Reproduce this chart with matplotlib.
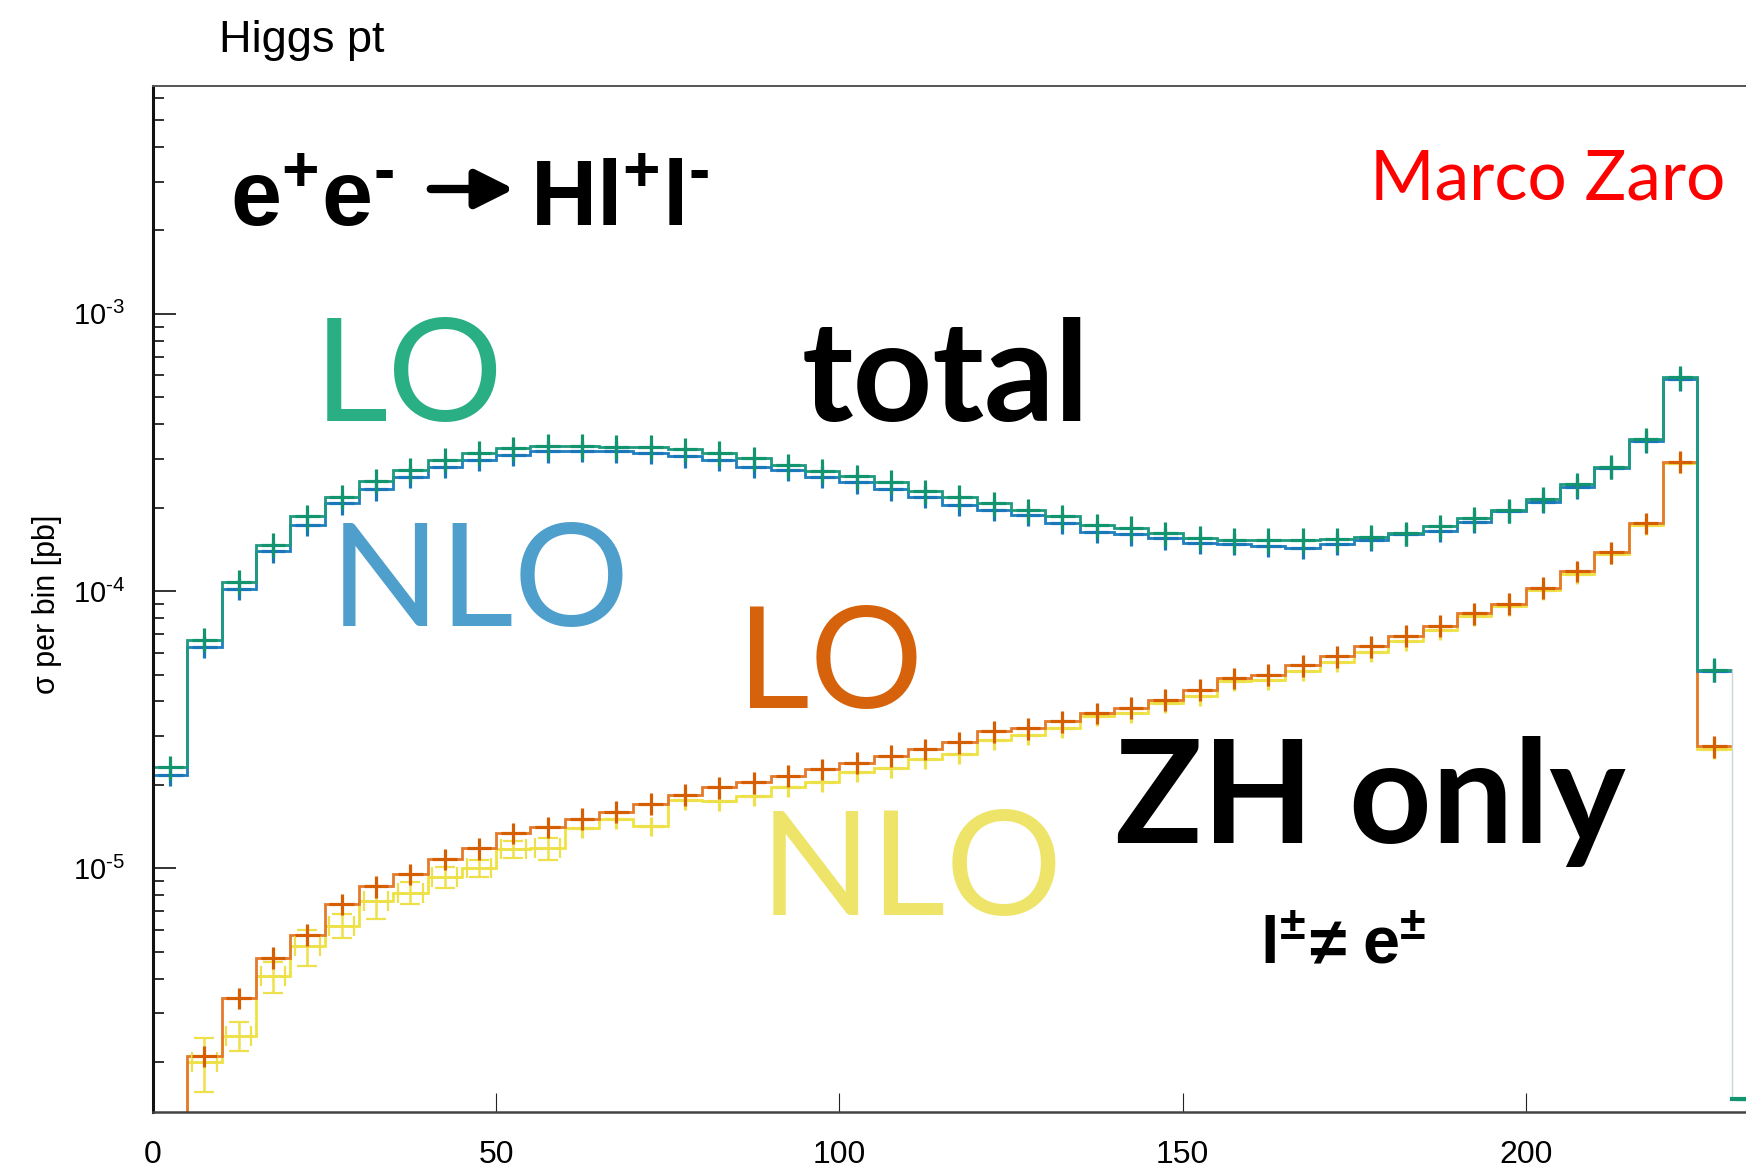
import numpy as np
import matplotlib
matplotlib.use('Agg')
import matplotlib.pyplot as plt
from matplotlib.patches import FancyArrowPatch
from matplotlib.ticker import FixedLocator, FuncFormatter

# Higgs pt in e+e- -> H l+ l-, cross section per 5 GeV bin (pb)
pt_edges = np.arange(0, 240, 5)

lo_total = [2.31e-5, 6.67e-5, 1.08e-4, 1.47e-4, 1.86e-4, 2.19e-4, 2.50e-4, 2.74e-4,
            2.98e-4, 3.16e-4, 3.28e-4, 3.34e-4, 3.34e-4, 3.32e-4, 3.32e-4, 3.25e-4,
            3.15e-4, 3.02e-4, 2.85e-4, 2.72e-4, 2.60e-4, 2.48e-4, 2.29e-4, 2.19e-4,
            2.07e-4, 1.96e-4, 1.86e-4, 1.73e-4, 1.69e-4, 1.62e-4, 1.56e-4, 1.53e-4,
            1.53e-4, 1.53e-4, 1.54e-4, 1.57e-4, 1.62e-4, 1.71e-4, 1.83e-4, 1.96e-4,
            2.15e-4, 2.43e-4, 2.81e-4, 3.53e-4, 5.90e-4, 5.20e-5, 1.47e-6]
nlo_total = [2.17e-5, 6.30e-5, 1.02e-4, 1.39e-4, 1.73e-4, 2.07e-4, 2.33e-4, 2.59e-4,
             2.81e-4, 2.98e-4, 3.10e-4, 3.19e-4, 3.20e-4, 3.19e-4, 3.15e-4, 3.06e-4,
             2.98e-4, 2.81e-4, 2.74e-4, 2.59e-4, 2.47e-4, 2.33e-4, 2.19e-4, 2.05e-4,
             1.96e-4, 1.88e-4, 1.76e-4, 1.64e-4, 1.60e-4, 1.55e-4, 1.49e-4, 1.48e-4,
             1.46e-4, 1.43e-4, 1.48e-4, 1.53e-4, 1.60e-4, 1.65e-4, 1.78e-4, 1.94e-4,
             2.10e-4, 2.37e-4, 2.78e-4, 3.47e-4, 5.80e-4, 5.15e-5, 1.45e-6]
lo_zh = [1e-7, 2.10e-6, 3.40e-6, 4.75e-6, 5.76e-6, 7.43e-6, 8.60e-6, 9.53e-6,
         1.08e-5, 1.18e-5, 1.34e-5, 1.41e-5, 1.51e-5, 1.60e-5, 1.71e-5, 1.84e-5,
         1.96e-5, 2.04e-5, 2.16e-5, 2.28e-5, 2.40e-5, 2.55e-5, 2.69e-5, 2.85e-5,
         3.12e-5, 3.20e-5, 3.39e-5, 3.63e-5, 3.79e-5, 4.06e-5, 4.41e-5, 4.86e-5,
         4.99e-5, 5.39e-5, 5.81e-5, 6.31e-5, 6.90e-5, 7.51e-5, 8.32e-5, 9.00e-5,
         1.03e-4, 1.18e-4, 1.38e-4, 1.76e-4, 2.93e-4, 2.75e-5, 1e-7]
nlo_zh = [1e-7, 2.00e-6, 2.49e-6, 4.07e-6, 5.22e-6, 6.21e-6, 7.60e-6, 8.15e-6,
          9.30e-6, 1.00e-5, 1.17e-5, 1.18e-5, 1.40e-5, 1.51e-5, 1.42e-5, 1.77e-5,
          1.75e-5, 1.82e-5, 1.97e-5, 2.05e-5, 2.23e-5, 2.30e-5, 2.48e-5, 2.59e-5,
          2.91e-5, 3.03e-5, 3.20e-5, 3.53e-5, 3.63e-5, 3.94e-5, 4.17e-5, 4.72e-5,
          4.79e-5, 5.13e-5, 5.57e-5, 6.05e-5, 6.63e-5, 7.25e-5, 8.10e-5, 8.80e-5,
          1.01e-4, 1.15e-4, 1.36e-4, 1.73e-4, 2.90e-4, 2.70e-5, 1e-7]
# relative MC errors of the NLO ZH points (bigger at low pt, drawn with caps)
nlo_zh_relerr = [0.0, 0.22, 0.12, 0.13, 0.15, 0.10, 0.14, 0.09, 0.09, 0.07,
                 0.07, 0.09, 0.08, 0.08, 0.08, 0.08, 0.08, 0.08, 0.08, 0.08,
                 0.08, 0.08, 0.08, 0.08, 0.08, 0.08, 0.08, 0.08, 0.08, 0.08,
                 0.08, 0.08, 0.08, 0.08, 0.08, 0.08, 0.08, 0.08, 0.08, 0.08,
                 0.08, 0.08, 0.08, 0.08, 0.08, 0.08, 0.0]
n_capped = 12

x_ticks = [0, 50, 100, 150, 200]
y_ticks = [1e-5, 1e-4, 1e-3]

W, H = 1746, 1168

plt.rcParams['font.family'] = ['Liberation Sans', 'DejaVu Sans']
plt.rcParams['mathtext.fontset'] = 'custom'
plt.rcParams['mathtext.rm'] = 'Liberation Sans'
plt.rcParams['mathtext.it'] = 'Liberation Sans:italic'
plt.rcParams['mathtext.bf'] = 'Liberation Sans:bold'
plt.rcParams['mathtext.sf'] = 'Liberation Sans'


def draw_hist(ax, vals, relerr, line_col, mark_col, keep_tail=False, caps_upto=0):
    vals = np.array(vals)
    err = np.array(relerr) * vals
    centers = pt_edges[:-1] + 2.5
    # main histogram up to 230, last bin only for the totals, drawn faint
    ax.stairs(vals[:-1], pt_edges[:-1], color=line_col, lw=2.0, baseline=None)
    if keep_tail:
        ax.plot([230, 230, 235], [vals[-2], vals[-1], vals[-1]], color='#c8d8d4', lw=1.0)
        ax.plot([230, 235], [vals[-1], vals[-1]], color=mark_col, lw=3.0)
    ok = vals > 1e-6
    ok[-1] = keep_tail
    if caps_upto:
        first = ok.copy()
        first[caps_upto:] = False
        ax.errorbar(centers[first], vals[first], xerr=1.8, yerr=err[first], fmt='none',
                    ecolor=mark_col, elinewidth=1.8, capsize=7, capthick=1.6)
        ok[:caps_upto] = False
    ax.errorbar(centers[ok], vals[ok], xerr=1.8, yerr=err[ok], fmt='none',
                ecolor=mark_col, elinewidth=2.3, capsize=0)


def put(txt, x, y, size, color, family='Lato', weight='normal'):
    # x, y in pixels of the final image, y = baseline from the top
    fig.text(x / W, 1 - y / H, txt, fontsize=size, color=color, family=family,
             weight=weight, ha='left', va='baseline')


def exp_label(v, pos):
    return '$10^{\u2010%d}$' % int(round(-np.log10(v)))


fig = plt.figure(figsize=(W / 100, H / 100), dpi=100)
ax = fig.add_axes([153 / W, 1 - 1112 / H, 1 - 153 / W, (1112 - 86) / H])

draw_hist(ax, nlo_zh, nlo_zh_relerr, '#efe240', '#eee04a', caps_upto=n_capped)
draw_hist(ax, lo_zh, [0.09] * len(lo_zh), '#e47a2c', '#d55e00')
draw_hist(ax, nlo_total, [0.09] * len(nlo_total), '#1f7fbf', '#1a78b8')
draw_hist(ax, lo_total, [0.10] * len(lo_total), '#1f9a80', '#12946f', keep_tail=True)

ax.set_yscale('log')
ax.set_xlim(0, 232.1)
ax.set_ylim(1.32e-6, 6.64e-3)
ax.set_xticks(x_ticks)
ax.set_xticklabels([str(t) for t in x_ticks])
ax.yaxis.set_major_locator(FixedLocator(y_ticks))
ax.yaxis.set_major_formatter(FuncFormatter(exp_label))

ax.tick_params(axis='x', which='major', direction='in', length=13.5, width=0.8,
               color='#222222', labelsize=23, pad=20)
ax.tick_params(axis='x', which='minor', bottom=False)
ax.tick_params(axis='y', which='major', direction='in', length=16.5, width=1.4,
               color='#333333', labelsize=21, pad=20)
ax.tick_params(axis='y', which='minor', direction='in', length=8, width=1.4,
               color='#333333')

ax.spines['right'].set_visible(False)
ax.spines['left'].set_linewidth(2.2)
ax.spines['left'].set_color('#111111')
ax.spines['bottom'].set_linewidth(1.8)
ax.spines['bottom'].set_color('#444444')
ax.spines['top'].set_linewidth(1.4)
ax.spines['top'].set_color('#555555')

# axis title and y label
fig.text(219 / W, 1 - 52 / H, 'Higgs pt', fontsize=32.5, ha='left', va='baseline')
fig.text(47 / W, 1 - 604 / H, 'σ per bin [pb]', fontsize=22, rotation=90,
         ha='center', va='center')

# slide annotations
put('$\\mathbf{e^{+}e^{\u2010}}$', 230, 226, 66, 'black', family='Liberation Sans')
fig.add_artist(FancyArrowPatch((428 / W, 1 - 189 / H), (517 / W, 1 - 189 / H),
                               transform=fig.transFigure, arrowstyle='-|>',
                               mutation_scale=58, lw=6, color='black'))
put('$\\mathbf{Hl^{+}l^{\u2010}}$', 530, 226, 66, 'black', family='Liberation Sans')
put('Marco Zaro', 1370, 200, 50, '#ff0000')
put('LO', 314, 421, 104, '#2aae84')
put('total', 802, 421, 100, 'black', weight='bold')
put('NLO', 330, 626, 104, '#4f9fcc')
put('LO', 737, 708, 102, '#d6620b')
put('ZH only', 1115, 843, 104, 'black', weight='bold')
put('NLO', 760, 915, 105, '#efe46a')
# l+- != e+-, placed piece by piece to keep the slide spacing
put('$\\mathbf{l^{\\pm}}$', 1260, 964, 48, 'black', family='Liberation Sans')
put('\u2260', 1309, 964, 48, 'black', family='Liberation Sans', weight='bold')
put('$\\mathbf{e^{\\pm}}$', 1362, 964, 48, 'black', family='Liberation Sans')

fig.savefig('out.png', dpi=100)
